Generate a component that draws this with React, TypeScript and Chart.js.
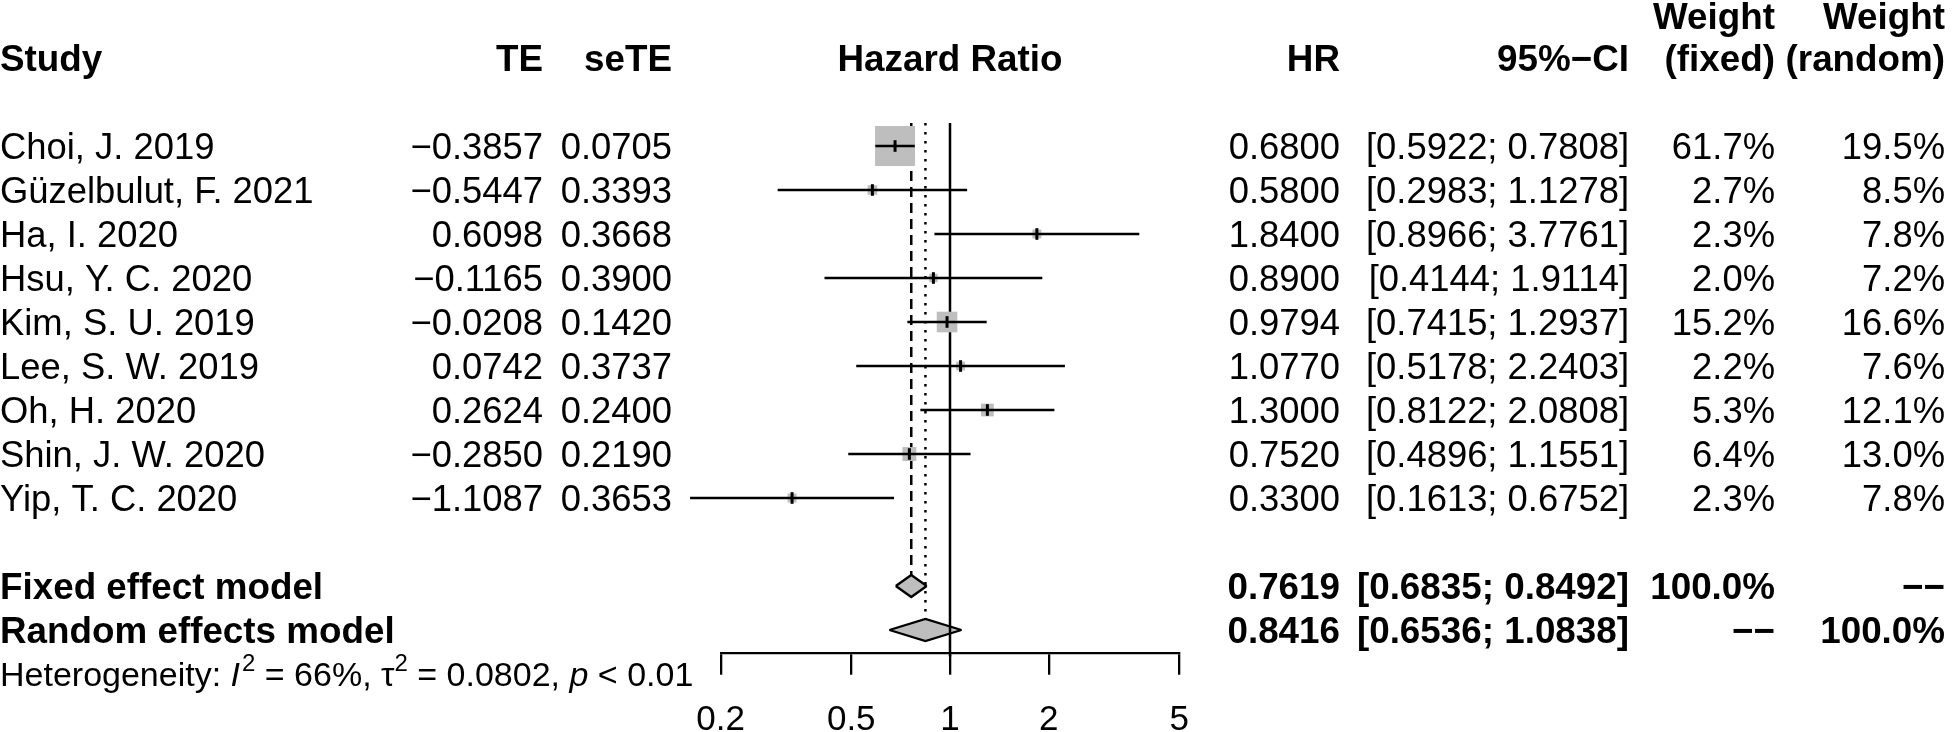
import React, { useEffect, useRef } from "react";
import { Chart, registerables } from "chart.js";

Chart.register(...registerables);

// ---- data ----
const studies = [
  "Choi, J. 2019",
  "Güzelbulut, F. 2021",
  "Ha, I. 2020",
  "Hsu, Y. C. 2020",
  "Kim, S. U. 2019",
  "Lee, S. W. 2019",
  "Oh, H. 2020",
  "Shin, J. W. 2020",
  "Yip, T. C. 2020",
];
const teValues = [-0.3857, -0.5447, 0.6098, -0.1165, -0.0208, 0.0742, 0.2624, -0.285, -1.1087];
const seTEValues = [0.0705, 0.3393, 0.3668, 0.39, 0.142, 0.3737, 0.24, 0.219, 0.3653];
const hrValues = [0.68, 0.58, 1.84, 0.89, 0.9794, 1.077, 1.3, 0.752, 0.33];
const ciLower = [0.5922, 0.2983, 0.8966, 0.4144, 0.7415, 0.5178, 0.8122, 0.4896, 0.1613];
const ciUpper = [0.7808, 1.1278, 3.7761, 1.9114, 1.2937, 2.2403, 2.0808, 1.1551, 0.6752];
const weightFixed = [61.7, 2.7, 2.3, 2.0, 15.2, 2.2, 5.3, 6.4, 2.3];
const weightRandom = [19.5, 8.5, 7.8, 7.2, 16.6, 7.6, 12.1, 13.0, 7.8];

const modelNames = ["Fixed effect model", "Random effects model"];
const modelHR = [0.7619, 0.8416];
const modelLower = [0.6835, 0.6536];
const modelUpper = [0.8492, 1.0838];
const modelWeightFixed = ["100.0%", "−−"];
const modelWeightRandom = ["−−", "100.0%"];

const xTicks = [0.2, 0.5, 1, 2, 5];
const hetI2 = "66%";
const hetTau2 = "0.0802";
const hetP = "< 0.01";

// ---- layout (pixels) ----
const W = 1952;
const H = 732;
const FONT = '"Liberation Sans", Arial, Helvetica, sans-serif';
const FS = 36.4;
const FS_BOLD = 36.8;
const FS_HET = 34;
const PLOT_LEFT = 720.7;
const PLOT_RIGHT = 1179.3;
const AXIS_Y = 652.7;
const ROW0 = 146;
const ROWH = 44;
const COL = {
  study: 0,
  te: 543,
  se: 672,
  hrCenter: 950,
  hr: 1340,
  ci: 1629,
  wf: 1775,
  wr: 1945,
};
const GREY = "#BEBEBE";
const LW = 2.3;

const fmtMinus = (v: number, d: number) => {
  const s = v.toFixed(d);
  return s.startsWith("-") ? "−" + s.slice(1) : s;
};

const modelRows = [10, 11];
const refTop = -0.52;
const rowAtPixel = (p: number) => (p - ROW0) / ROWH;

const textPlugin = {
  id: "forestText",
  afterDraw(chart: any) {
    const ctx: CanvasRenderingContext2D = chart.ctx;
    const ys = chart.scales.y;
    const put = (s: string, x: number, row: number, align: CanvasTextAlign, bold = false) => {
      const size = bold ? FS_BOLD : FS;
      ctx.font = `${bold ? "bold " : ""}${size}px ${FONT}`;
      ctx.textAlign = align;
      ctx.textBaseline = "alphabetic";
      ctx.fillStyle = "#000";
      ctx.fillText(s, x, ys.getPixelForValue(row) + 0.358 * size);
    };
    ctx.save();
    // headers
    put("Weight", COL.wf, -2.96, "right", true);
    put("Weight", COL.wr, -2.96, "right", true);
    put("Study", COL.study, -2, "left", true);
    put("TE", COL.te, -2, "right", true);
    put("seTE", COL.se, -2, "right", true);
    put("Hazard Ratio", COL.hrCenter, -2, "center", true);
    put("HR", COL.hr, -2, "right", true);
    put("95%−CI", COL.ci, -2, "right", true);
    put("(fixed)", COL.wf, -2, "right", true);
    put("(random)", COL.wr, -2, "right", true);
    // studies
    studies.forEach((s, i) => {
      put(s, COL.study, i, "left");
      put(fmtMinus(teValues[i], 4), COL.te, i, "right");
      put(seTEValues[i].toFixed(4), COL.se, i, "right");
      put(hrValues[i].toFixed(4), COL.hr, i, "right");
      put(`[${ciLower[i].toFixed(4)}; ${ciUpper[i].toFixed(4)}]`, COL.ci, i, "right");
      put(weightFixed[i].toFixed(1) + "%", COL.wf, i, "right");
      put(weightRandom[i].toFixed(1) + "%", COL.wr, i, "right");
    });
    // models
    modelNames.forEach((s, k) => {
      const r = modelRows[k];
      put(s, COL.study, r, "left", true);
      put(modelHR[k].toFixed(4), COL.hr, r, "right", true);
      put(`[${modelLower[k].toFixed(4)}; ${modelUpper[k].toFixed(4)}]`, COL.ci, r, "right", true);
      put(modelWeightFixed[k], COL.wf, r, "right", true);
      put(modelWeightRandom[k], COL.wr, r, "right", true);
    });
    // heterogeneity line
    const hy = ys.getPixelForValue(12) + 0.358 * FS_HET;
    let x = 0;
    ctx.fillStyle = "#000";
    const seg = (s: string, style: string, size: number, dy = 0) => {
      ctx.font = `${style}${size}px ${FONT}`;
      ctx.textAlign = "left";
      ctx.fillText(s, x, hy - dy);
      x += ctx.measureText(s).width;
    };
    const sup = Math.round(FS_HET * 0.7);
    const raise = FS_HET * 0.45;
    seg("Heterogeneity: ", "", FS_HET);
    seg("I", "italic ", FS_HET);
    x += 2;
    seg("2", "", sup, raise);
    seg(` = ${hetI2}, `, "", FS_HET);
    seg("τ", "", FS_HET);
    seg("2", "", sup, raise);
    seg(` = ${hetTau2}, `, "", FS_HET);
    seg("p", "italic ", FS_HET);
    seg(` ${hetP}`, "", FS_HET);
    ctx.restore();
  },
};

export default function App() {
  const ref = useRef<HTMLCanvasElement>(null);
  useEffect(() => {
    if (!ref.current) return;
    const line = (pts: { x: number; y: number }[], extra: any = {}) => ({
      type: "scatter",
      data: pts,
      showLine: true,
      borderColor: "#000",
      borderWidth: LW,
      pointRadius: 0,
      fill: false,
      clip: false,
      ...extra,
    });
    const datasets: any[] = [];
    // reference lines
    datasets.push(line([{ x: 1, y: refTop }, { x: 1, y: 11.6 }], { order: 30, borderWidth: 2.5 }));
    datasets.push(
      line([{ x: modelHR[0], y: refTop }, { x: modelHR[0], y: modelRows[0] - 0.25 }], {
        order: 30,
        borderDash: [10, 6],
        borderWidth: 2.5,
      })
    );
    datasets.push(
      line([{ x: modelHR[1], y: refTop }, { x: modelHR[1], y: modelRows[1] - 0.25 }], {
        order: 30,
        borderDash: [2.5, 6.5],
        borderWidth: 2.5,
      })
    );
    // squares
    datasets.push({
      type: "scatter",
      data: hrValues.map((v, i) => ({ x: v, y: i })),
      pointStyle: "rect",
      pointRadius: weightFixed.map((w) => (38.5 * Math.sqrt(w / 61.7) + 1.5) / Math.SQRT2),
      pointBackgroundColor: GREY,
      pointBorderWidth: 0,
      pointBorderColor: GREY,
      showLine: false,
      clip: false,
      order: 20,
    });
    // CI lines
    hrValues.forEach((_, i) => {
      datasets.push(line([{ x: ciLower[i], y: i }, { x: ciUpper[i], y: i }], { order: 10 }));
    });
    // estimate ticks
    datasets.push({
      type: "scatter",
      data: hrValues.map((v, i) => ({ x: v, y: i })),
      pointStyle: "line",
      pointRotation: 90,
      pointRadius: 5.8,
      pointBorderWidth: 3,
      pointBorderColor: "#000",
      pointBackgroundColor: "#000",
      showLine: false,
      clip: false,
      order: 5,
    });
    // diamonds (upper half filled to lower half)
    modelHR.forEach((m, k) => {
      const r = modelRows[k];
      datasets.push(
        line(
          [
            { x: modelLower[k], y: r },
            { x: m, y: r - 0.25 },
            { x: modelUpper[k], y: r },
          ],
          { fill: "+1", backgroundColor: GREY, order: 0, borderJoinStyle: "miter" }
        )
      );
      datasets.push(
        line(
          [
            { x: modelLower[k], y: r },
            { x: m, y: r + 0.25 },
            { x: modelUpper[k], y: r },
          ],
          { order: 0, borderJoinStyle: "miter" }
        )
      );
    });

    const chart = new Chart(ref.current, {
      type: "scatter",
      data: { datasets },
      options: {
        animation: false,
        responsive: false,
        devicePixelRatio: 1,
        layout: {
          padding: { left: PLOT_LEFT, right: W - PLOT_RIGHT, top: 0, bottom: 0 },
        },
        plugins: {
          legend: { display: false },
          tooltip: { enabled: false },
          filler: { drawTime: "beforeDatasetsDraw" },
        },
        scales: {
          x: {
            type: "logarithmic",
            position: "bottom",
            min: xTicks[0],
            max: xTicks[xTicks.length - 1],
            afterBuildTicks: (scale: any) => {
              scale.ticks = xTicks.map((v) => ({ value: v }));
            },
            afterFit: (scale: any) => {
              scale.height = H - AXIS_Y;
            },
            grid: {
              drawOnChartArea: false,
              drawTicks: true,
              tickLength: 22,
              lineWidth: 2.3,
              color: "#000",
            },
            border: { display: true, color: "#000", width: 2.3 },
            ticks: {
              font: { family: FONT, size: 35 },
              color: "#000",
              padding: 25,
              maxRotation: 0,
              autoSkip: false,
              callback: (v: any) => String(v),
            },
          },
          y: {
            type: "linear",
            display: false,
            reverse: true,
            min: rowAtPixel(0),
            max: rowAtPixel(AXIS_Y),
          },
        },
      } as any,
      plugins: [textPlugin],
    });
    // align the row scale with the actual chart area so rows sit at fixed pixels
    const ca = chart.chartArea;
    const yOpts: any = (chart.options as any).scales.y;
    yOpts.min = rowAtPixel(ca.top);
    yOpts.max = rowAtPixel(ca.bottom);
    chart.update();
    return () => chart.destroy();
  }, []);

  return (
    <div
      style={{
        position: "absolute",
        left: 0,
        top: 0,
        width: W,
        height: H,
        background: "#fff",
        overflow: "hidden",
      }}
    >
      <canvas ref={ref} width={W} height={H} style={{ display: "block" }} />
    </div>
  );
}
